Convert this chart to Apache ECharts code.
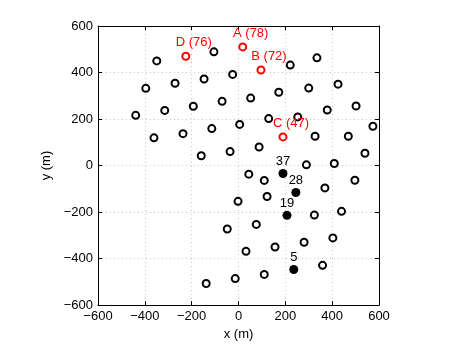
<!DOCTYPE html>
<html>
<head>
<meta charset="utf-8">
<script src="https://cdn.jsdelivr.net/npm/echarts@6/dist/echarts.min.js"></script>
<style>
  html, body { margin: 0; padding: 0; background: #fff; }
  #main { width: 460px; height: 346px; }
</style>
</head>
<body>
<div id="main"></div>
<script>
// stations (x, y in metres)
var openPts = [
    [-105, 489], [-349, 450], [-25, 392], [-147, 372], [-271, 354], [-396, 332],
    [-70, 276], [-193, 255], [-315, 237], [-439, 216], [5, 177], [-114, 159],
    [-237, 137], [-361, 119], [-36, 60], [-159, 42],
    [221, 432], [335, 463], [425, 350], [300, 333], [172, 315], [52, 290],
    [502, 256], [379, 239], [253, 209], [129, 202], [574, 169], [327, 126],
    [469, 126], [88, 80], [540, 53], [290, 3], [409, 9],
    [44, -37], [110, -64], [369, -96], [497, -63], [-2, -154], [122, -133],
    [324, -213], [440, -197], [76, -253], [280, -330], [403, -311], [32, -369],
    [156, -350], [359, -429], [-14, -486], [110, -468], [-48, -273], [-138, -507]
];
var redNames = ['A (78)', 'B (72)', 'C (47)', 'D (76)'];
var redPts = [[18, 510], [96, 411], [190, 123], [-225, 470]];
var filledNames = ['37', '28', '19', '5'];
var filledPts = [[190, -34], [245, -116], [207, -214], [236, -447]];
var ticks = [-600, -400, -200, 0, 200, 400, 600];

var font = 'Liberation Sans, Arial, sans-serif';

function fmt(v) {
    return v < 0 ? '\u2212' + Math.abs(v) : String(v);
}

function named(pts, names) {
    return pts.map(function (p, i) { return { name: names[i], value: p }; });
}

var myChart = echarts.init(document.getElementById('main'));

var baseAxis = {
    type: 'value',
    min: ticks[0],
    max: ticks[ticks.length - 1],
    interval: 200,
    axisLine: { show: true, onZero: false, lineStyle: { color: '#000', width: 1 } },
    axisTick: { show: true, inside: true, length: 4, lineStyle: { color: '#000' } },
    axisLabel: { show: true, color: '#000', fontSize: 13, fontFamily: font, formatter: fmt, margin: 5 },
    splitLine: { show: true, lineStyle: { color: '#c8c8c8', type: [1, 3], width: 1 } },
    nameTextStyle: { color: '#000', fontSize: 13, fontFamily: font }
};

function boxAxis(pos) {
    return Object.assign({}, baseAxis, {
        position: pos,
        axisLabel: { show: false },
        splitLine: { show: false }
    });
}

myChart.setOption({
    backgroundColor: '#fff',
    animation: false,
    grid: { left: 98, right: 81, top: 26, bottom: 40 },
    xAxis: [
        Object.assign({}, baseAxis, { position: 'bottom', name: 'x (m)', nameLocation: 'middle', nameGap: 18 }),
        boxAxis('top')
    ],
    yAxis: [
        Object.assign({}, baseAxis, { position: 'left', name: 'y (m)', nameLocation: 'middle', nameGap: 38 }),
        boxAxis('right')
    ],
    series: [
        {
            type: 'scatter',
            data: openPts,
            symbol: 'circle',
            symbolSize: 7,
            itemStyle: { color: '#fff', borderColor: '#000', borderWidth: 2, opacity: 1 }
        },
        {
            type: 'scatter',
            data: named(redPts, redNames),
            symbol: 'circle',
            symbolSize: 7,
            itemStyle: { color: '#fff', borderColor: '#ff0000', borderWidth: 2, opacity: 1 },
            label: {
                show: true, position: 'top', distance: 3, offset: [8, 0],
                formatter: '{b}', color: '#ff0000', fontSize: 13, fontFamily: font
            }
        },
        {
            type: 'scatter',
            data: named(filledPts, filledNames),
            symbol: 'circle',
            symbolSize: 9,
            itemStyle: { color: '#000', opacity: 1 },
            label: {
                show: true, position: 'top', distance: 1,
                formatter: '{b}', color: '#000', fontSize: 13, fontFamily: font
            }
        }
    ]
});
</script>
</body>
</html>
